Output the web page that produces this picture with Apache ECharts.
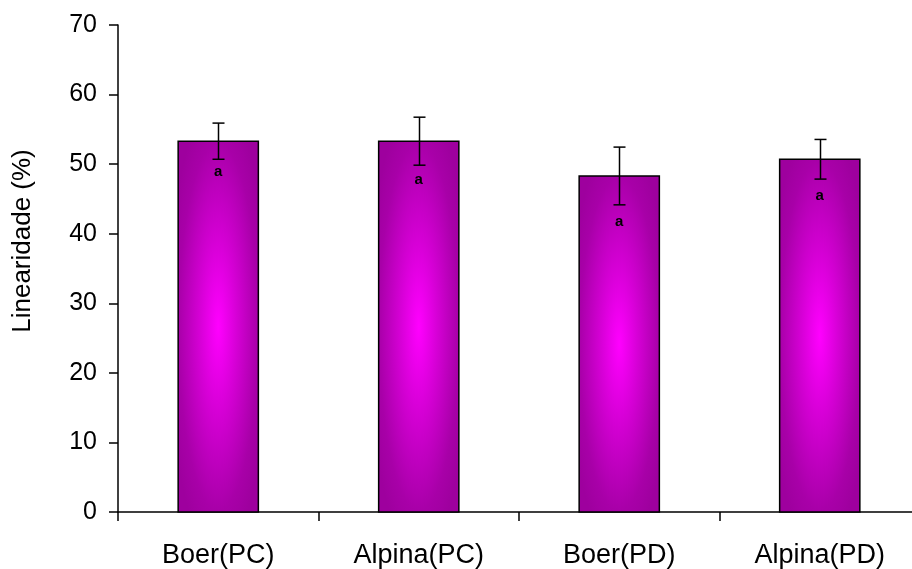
<!DOCTYPE html>
<html>
<head>
<meta charset="utf-8">
<script src="https://cdn.jsdelivr.net/npm/echarts@6/dist/echarts.min.js"></script>
<style>
html,body{margin:0;padding:0;background:#fff;}
#chart{width:912px;height:569px;}
</style>
</head>
<body>
<div id="chart"></div>
<script>
var categories = ['Boer(PC)', 'Alpina(PC)', 'Boer(PD)', 'Alpina(PD)'];
var means = [53.3, 53.3, 48.3, 50.7];
var errors = [2.6, 3.45, 4.15, 2.85];
var letters = ['a', 'a', 'a', 'a'];
var letterPos = [48.9, 47.7, 41.7, 45.4];
var yTicks = [0, 10, 20, 30, 40, 50, 60, 70];

var FONT = 'Arial, "Liberation Sans", sans-serif';
var chart = echarts.init(document.getElementById('chart'), null, {renderer: 'canvas'});

var data = categories.map(function (c, i) {
  return [i, means[i], errors[i], letterPos[i]];
});

function renderItem(params, api) {
  var i = api.value(0);
  var v = api.value(1);
  var e = api.value(2);
  var lp = api.value(3);
  var base = api.coord([i, 0]);
  var top = api.coord([i, v]);
  var bw = api.size([1, 0])[0] * 0.4;
  var x0 = base[0] - bw / 2;
  var h = base[1] - top[1];
  var eTop = api.coord([i, v + e]);
  var eBot = api.coord([i, v - e]);
  var lPt = api.coord([i, lp]);
  var cx = Math.round(base[0]) + 0.5;
  var cap = 6;
  return {
    type: 'group',
    children: [
      {
        type: 'rect',
        shape: {x: 0, y: 0, width: 100, height: 100},
        x: x0, y: top[1], scaleX: bw / 100, scaleY: h / 100,
        style: {
          fill: new echarts.graphic.RadialGradient(0.5, 0.5, 0.62, [
            {offset: 0, color: '#ff00ff'},
            {offset: 0.35, color: '#d800d8'},
            {offset: 0.8, color: '#a800a8'},
            {offset: 1, color: '#9e009e'}
          ])
        }
      },
      {
        type: 'rect',
        shape: {x: x0, y: top[1], width: bw, height: h},
        style: {fill: null, stroke: '#000', lineWidth: 1.5}
      },
      {
        type: 'line',
        shape: {x1: cx, y1: eTop[1], x2: cx, y2: eBot[1]},
        style: {stroke: '#000', lineWidth: 1.5}
      },
      {
        type: 'line',
        shape: {x1: cx - cap, y1: eTop[1], x2: cx + cap, y2: eTop[1]},
        style: {stroke: '#000', lineWidth: 1.5}
      },
      {
        type: 'line',
        shape: {x1: cx - cap, y1: eBot[1], x2: cx + cap, y2: eBot[1]},
        style: {stroke: '#000', lineWidth: 1.5}
      },
      {
        type: 'text',
        x: base[0], y: lPt[1],
        style: {
          text: letters[i],
          fill: '#000',
          font: 'bold 15px ' + FONT,
          align: 'center',
          verticalAlign: 'middle'
        }
      }
    ]
  };
}

var option = {
  animation: false,
  backgroundColor: '#fff',
  grid: {left: 118, top: 25, width: 802, height: 487, outerBoundsMode: 'none', containLabel: false},
  xAxis: {
    type: 'category',
    data: categories,
    boundaryGap: true,
    axisLine: {lineStyle: {color: '#000', width: 1.5}},
    axisTick: {show: true, length: 9, inside: false, alignWithLabel: false, lineStyle: {color: '#000', width: 1.5}},
    axisLabel: {color: '#000', fontFamily: FONT, fontSize: 27, margin: 30},
    splitLine: {show: false}
  },
  yAxis: {
    type: 'value',
    min: 0, max: 70, interval: 10,
    axisLine: {show: true, lineStyle: {color: '#000', width: 1.5}},
    axisTick: {show: true, length: 9, lineStyle: {color: '#000', width: 1.5}},
    axisLabel: {
      color: '#000', fontFamily: FONT, fontSize: 25, margin: 21,
      formatter: function (val) { return yTicks.indexOf(val) >= 0 ? String(val) : ''; }
    },
    splitLine: {show: false}
  },
  graphic: [
    {
      type: 'text',
      x: 23, y: 241,
      rotation: Math.PI / 2,
      style: {
        text: 'Linearidade (%)',
        fill: '#000',
        font: '26px ' + FONT,
        align: 'center',
        verticalAlign: 'middle'
      }
    }
  ],
  series: [
    {
      type: 'custom',
      renderItem: renderItem,
      data: data,
      encode: {x: 0, y: 1},
      clip: false
    }
  ]
};
chart.setOption(option);
</script>
</body>
</html>
